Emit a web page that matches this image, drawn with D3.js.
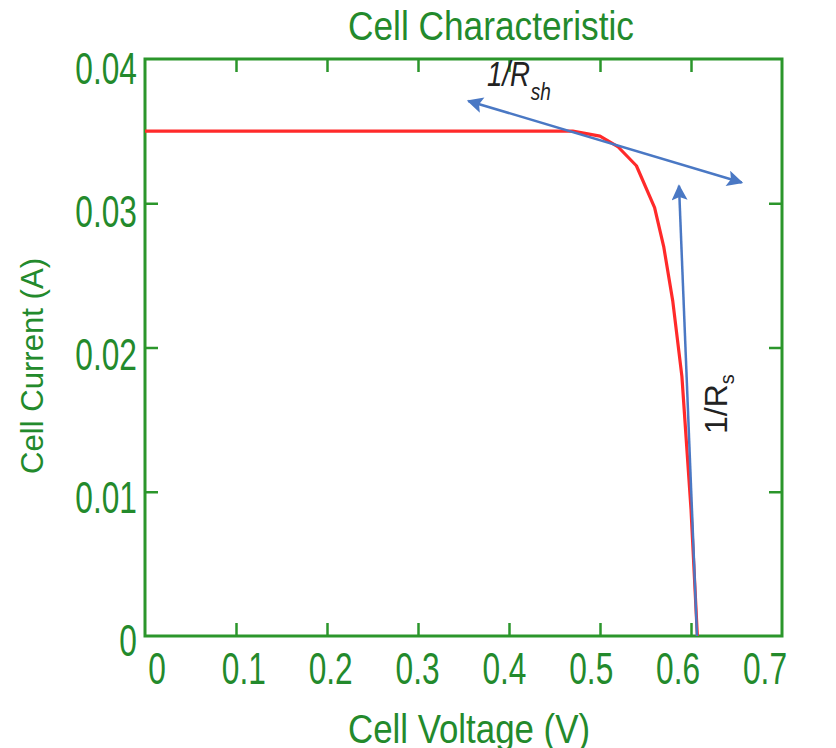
<!DOCTYPE html>
<html>
<head>
<meta charset="utf-8">
<script src="https://cdn.jsdelivr.net/npm/d3@7/dist/d3.min.js"></script>
<style>
  html, body { margin: 0; padding: 0; background: #fff; }
  svg { display: block; }
</style>
</head>
<body>
<svg id="chart" width="836" height="748"></svg>
<script>
// I-V characteristic of a solar cell
const voltage = [0, 0.10, 0.20, 0.30, 0.40, 0.47, 0.50, 0.52, 0.54, 0.56, 0.57, 0.58, 0.59, 0.60, 0.607];
const current = [0.0350, 0.0350, 0.0350, 0.0350, 0.0350, 0.0350, 0.03465, 0.0339, 0.0326, 0.0297, 0.0270, 0.0232, 0.0180, 0.0088, 0];

const xTicks = [0, 0.1, 0.2, 0.3, 0.4, 0.5, 0.6, 0.7];
const yTicks = [0, 0.01, 0.02, 0.03, 0.04];
const xTickLabels = ["0", "0.1", "0.2", "0.3", "0.4", "0.5", "0.6", "0.7"];
const yTickLabels = ["0", "0.01", "0.02", "0.03", "0.04"];

// slope annotations, in (V, A)
const shuntArrow = [[0.3553, 0.03709], [0.6557, 0.03144]];
const seriesArrow = [[0.6066, 0], [0.5868, 0.03121]];

const green = "#238a2c";
const frameGreen = "#2b962b";
const blue = "#4a78c4";

const svg = d3.select("#chart");
const L = 145, R = 782, T = 59, B = 636;

const x = d3.scaleLinear().domain([0, 0.7]).range([L, R]);
const y = d3.scaleLinear().domain([0, 0.04]).range([B, T]);
// tick labels sit on a slightly tighter spread than the tick marks
const xLab = d3.scaleLinear().domain([0, 0.7]).range([157, 765]);
const yLab = d3.scaleLinear().domain([0, 0.04]).range([640, 68]);

function condense(sel, k) {
  sel.each(function () {
    const w = this.getComputedTextLength();
    this.setAttribute("textLength", w * k);
    this.setAttribute("lengthAdjust", "spacingAndGlyphs");
  });
}
function fitWidth(sel, w) {
  sel.attr("textLength", w).attr("lengthAdjust", "spacingAndGlyphs");
}

// inward ticks on all four sides
const inner = xTicks.slice(1, -1);
const innerY = yTicks.slice(1, -1);
const tk = 13;
function styleAxis(g) {
  g.select(".domain").remove();
  g.selectAll("text").remove();
  g.selectAll("line").attr("stroke", frameGreen).attr("stroke-width", 2.5);
}
svg.append("g").attr("transform", `translate(0,${B})`)
  .call(d3.axisBottom(x).tickValues(inner).tickSizeInner(-tk).tickSizeOuter(0)).call(styleAxis);
svg.append("g").attr("transform", `translate(0,${T})`)
  .call(d3.axisTop(x).tickValues(inner).tickSizeInner(-tk).tickSizeOuter(0)).call(styleAxis);
svg.append("g").attr("transform", `translate(${L},0)`)
  .call(d3.axisLeft(y).tickValues(innerY).tickSizeInner(-tk).tickSizeOuter(0)).call(styleAxis);
svg.append("g").attr("transform", `translate(${R},0)`)
  .call(d3.axisRight(y).tickValues(innerY).tickSizeInner(-tk).tickSizeOuter(0)).call(styleAxis);

svg.append("rect")
  .attr("x", L).attr("y", T).attr("width", R - L).attr("height", B - T)
  .attr("fill", "none").attr("stroke", frameGreen).attr("stroke-width", 3);

// tick labels
const labelFont = "'Liberation Sans', Arial, sans-serif";
svg.append("g").selectAll("text").data(xTicks).join("text")
  .attr("x", d => xLab(d)).attr("y", 684)
  .attr("text-anchor", "middle")
  .attr("font-family", labelFont).attr("font-size", 44).attr("fill", green)
  .text((d, i) => xTickLabels[i])
  .call(condense, 0.72);
svg.append("g").selectAll("text").data(yTicks).join("text")
  .attr("x", 137).attr("y", d => yLab(d) + 16)
  .attr("text-anchor", "end")
  .attr("font-family", labelFont).attr("font-size", 44).attr("fill", green)
  .text((d, i) => yTickLabels[i])
  .call(condense, 0.72);

// title and axis titles
svg.append("text").attr("x", 491).attr("y", 40).attr("text-anchor", "middle")
  .attr("font-family", labelFont).attr("font-size", 40).attr("fill", green)
  .text("Cell Characteristic").call(fitWidth, 286);
svg.append("text").attr("x", 469).attr("y", 743).attr("text-anchor", "middle")
  .attr("font-family", labelFont).attr("font-size", 41).attr("fill", green)
  .text("Cell Voltage (V)").call(fitWidth, 242);
svg.append("text")
  .attr("transform", "translate(43,366) rotate(-90)")
  .attr("text-anchor", "middle")
  .attr("font-family", labelFont).attr("font-size", 32).attr("fill", green)
  .text("Cell Current (A)").call(fitWidth, 216);

// I-V curve
const pts = voltage.map((v, i) => [v, current[i]]);
svg.append("path")
  .datum(pts)
  .attr("fill", "none")
  .attr("stroke", "#ff2a2a")
  .attr("stroke-width", 3.2)
  .attr("stroke-linejoin", "round")
  .attr("d", d3.line().x(d => x(d[0])).y(d => y(d[1])));

// arrowheads
const defs = svg.append("defs");
defs.append("marker").attr("id", "head").attr("viewBox", "0 0 10 10")
  .attr("refX", 9).attr("refY", 5).attr("markerUnits", "userSpaceOnUse")
  .attr("markerWidth", 20).attr("markerHeight", 16).attr("orient", "auto-start-reverse")
  .append("path").attr("d", "M0,0 L10,5 L0,10 L2,5 Z").attr("fill", blue);

const arrowLine = d3.line().x(d => x(d[0])).y(d => y(d[1]));
svg.append("path").datum(shuntArrow)
  .attr("fill", "none").attr("stroke", blue).attr("stroke-width", 2.5)
  .attr("marker-start", "url(#head)").attr("marker-end", "url(#head)")
  .attr("d", arrowLine);
svg.append("path").datum(seriesArrow)
  .attr("fill", "none").attr("stroke", blue).attr("stroke-width", 2.5)
  .attr("marker-end", "url(#head)")
  .attr("d", arrowLine);

// slope labels
const rsh = svg.append("text").attr("x", 487).attr("y", 86)
  .attr("font-family", labelFont).attr("font-style", "italic")
  .attr("font-size", 35).attr("fill", "#222");
rsh.append("tspan").text("1/R");
rsh.append("tspan").attr("font-size", 24).attr("dx", 1).attr("dy", 14).text("sh");
condense(rsh, 0.8);

const rs = svg.append("text")
  .attr("transform", "translate(727,434) rotate(-90)")
  .attr("font-family", labelFont).attr("font-size", 32).attr("fill", "#222");
rs.append("tspan").text("1/R");
rs.append("tspan").attr("font-size", 20).attr("dy", 7).text("s");
</script>
</body>
</html>
